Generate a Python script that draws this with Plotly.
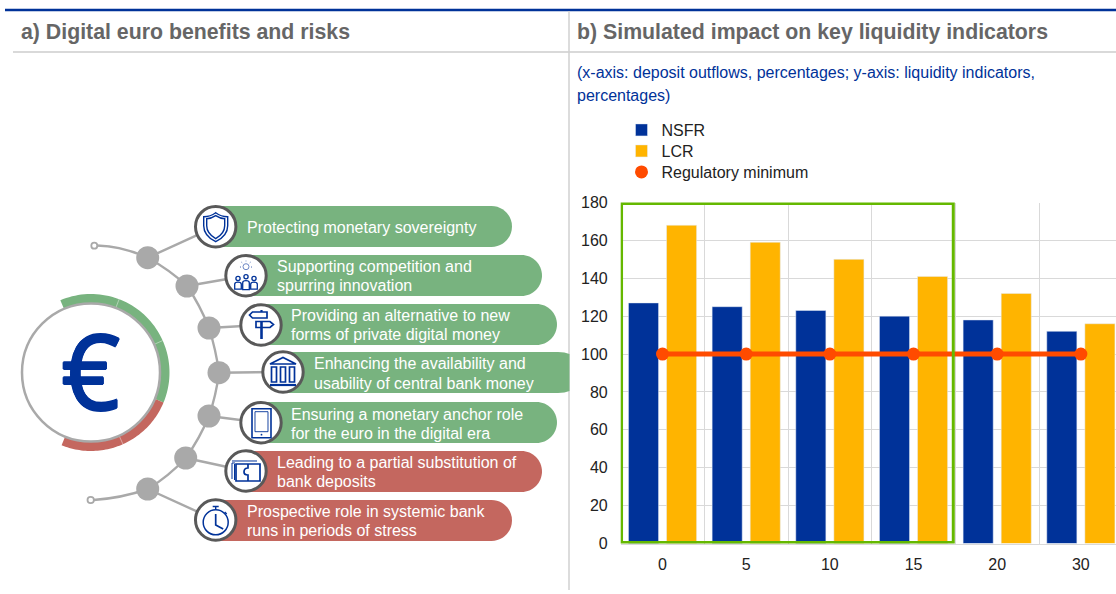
import math, re
import plotly.graph_objects as go

# ---------- data ----------
categories = ["0", "5", "10", "15", "20", "30"]
nsfr = [127, 125, 123, 120, 118, 112]
lcr = [168, 159, 150, 141, 132, 116]
regulatory_minimum = [100, 100, 100, 100, 100, 100]
y_ticks = [0, 20, 40, 60, 80, 100, 120, 140, 160, 180]

pill_labels = [
    ["Protecting monetary sovereignty"],
    ["Supporting competition and", "spurring innovation"],
    ["Providing an alternative to new", "forms of private digital money"],
    ["Enhancing the availability and", "usability of central bank money"],
    ["Ensuring a monetary anchor role", "for the euro in the digital era"],
    ["Leading to a partial substitution of", "bank deposits"],
    ["Prospective role in systemic bank", "runs in periods of stress"],
]
title_a = "a) Digital euro benefits and risks"
title_b = "b) Simulated impact on key liquidity indicators"
subtitle_lines = ["(x-axis: deposit outflows, percentages; y-axis: liquidity indicators,", "percentages)"]

# ---------- colours ----------
BLUE = "#003299"; YELLOW = "#FFB400"; ORANGE = "#FF4B00"; FRAME = "#65B800"
GREEN = "#78B37F"; RED = "#C4675F"; GRID = "#D9D9D9"; NODE = "#A9A9A9"; EDGE = "#595959"
HEAD = "#666666"; FONT = "Liberation Sans, Arial, sans-serif"

W, H = 1116, 594
def fx(x): return x / W
def fy(y): return 1 - y / H

def path(s):
    """Convert a path written in page pixels into paper fractions."""
    i = [0]
    def rep(m):
        v = float(m.group(0)); k = i[0]; i[0] += 1
        return f"{fx(v):.5f}" if k % 2 == 0 else f"{fy(v):.5f}"
    return re.sub(r"-?\d+\.?\d*", rep, s)

shapes = []
def sh_path(s, fill=None, color=None, width=0):
    d = dict(type="path", xref="paper", yref="paper", path=path(s), layer="above")
    d["fillcolor"] = fill if fill else "rgba(0,0,0,0)"
    d["line"] = dict(color=color if color else "rgba(0,0,0,0)", width=width)
    shapes.append(d)
def circle(cx, cy, r, fill=None, color=None, width=0):
    shapes.append(dict(type="circle", xref="paper", yref="paper", layer="above",
                       x0=fx(cx-r), x1=fx(cx+r), y0=fy(cy+r), y1=fy(cy-r),
                       fillcolor=fill if fill else "rgba(0,0,0,0)",
                       line=dict(color=color if color else "rgba(0,0,0,0)", width=width)))
def line(x0, y0, x1, y1, color, width):
    sh_path(f"M {x0} {y0} L {x1} {y1}", color=color, width=width)

# ---------- page rules ----------
line(5, 10, 1116, 10, BLUE, 2.5)
line(13, 52, 1116, 52, GRID, 2)
line(569, 11, 569, 590, "#D0D0D0", 1.5)

# ---------- ring ----------
RCX, RCY = 91, 372.5
def band(a0, a1, r0, r1):
    pts = []
    n = 60
    for k in range(n+1):
        a = math.radians(a0 + (a1-a0)*k/n)
        pts.append((RCX + r1*math.sin(a), RCY - r1*math.cos(a)))
    for k in range(n, -1, -1):
        a = math.radians(a0 + (a1-a0)*k/n)
        pts.append((RCX + r0*math.sin(a), RCY - r0*math.cos(a)))
    return "M " + " L ".join(f"{x:.2f} {y:.2f}" for x, y in pts) + " Z"
sh_path(band(-23, 112.5, 69.5, 78.5), fill=GREEN)
sh_path(band(112.5, 202, 69.5, 78.5), fill=RED)
for a in (21, 66, 156):
    r = math.radians(a)
    line(RCX+70*math.sin(r), RCY-70*math.cos(r), RCX+78.5*math.sin(r), RCY-78.5*math.cos(r), "rgba(255,255,255,0.6)", 0.7)
circle(RCX, RCY, 69, fill="white", color="#A9A9A9", width=2.5)

# ---------- pills ----------
pill_boxes = [(215, 512, 206, 247, GREEN), (246, 542, 255, 296, GREEN), (261, 557, 304, 345, GREEN),
              (283, 0, 352, 393, GREEN), (261, 557, 402, 443, GREEN), (246, 542, 451, 492, RED),
              (215, 512, 500, 541, RED)]
for x0, x1, y0, y1, c in pill_boxes:
    if x1 == 0:
        sh_path(f"M {x0} {y0} L 558 {y0} Q 565 {y0} 569.5 {y0+2} L 569.5 {y1-2} Q 565 {y1} 558 {y1} L {x0} {y1} Z", fill=c)
    else:
        r = (y1-y0)/2; k = 0.55*r; xs = x1-r
        sh_path(f"M {x0} {y0} L {xs} {y0} C {xs+k} {y0} {x1} {y0+r-k} {x1} {y0+r} "
                f"C {x1} {y1-r+k} {xs+k} {y1} {xs} {y1} L {x0} {y1} Z", fill=c)

# ---------- branches ----------
nodes = [(147.7, 257.7), (187, 286), (209, 328), (219, 372.7), (209, 416), (185.7, 458), (147.7, 489)]
icons = [(215.7, 226.7), (246, 275.7), (261, 325), (283, 372), (261, 422.7), (246, 471), (215.7, 520)]
LG = "#A9A9A9"
for n, c in zip(nodes, icons):
    line(n[0], n[1], c[0], c[1], LG, 2.4)
sh_path("M 97 245.5 Q 122 246 147.7 257.7", color=LG, width=2.4)
sh_path("M 147.7 257.7 Q 170 270 187 286", color=LG, width=2.4)
sh_path("M 187 286 Q 200 305 209 328", color=LG, width=2.4)
sh_path("M 209 328 Q 216 350 219 372.7", color=LG, width=2.4)
sh_path("M 219 372.7 Q 216 396 209 416", color=LG, width=2.4)
sh_path("M 209 416 Q 200 438 185.7 458", color=LG, width=2.4)
sh_path("M 185.7 458 Q 168 477 147.7 489", color=LG, width=2.4)
sh_path("M 147.7 489 Q 122 498 93.5 500", color=LG, width=2.4)
circle(94.3, 245.7, 3, fill="white", color=LG, width=1.8)
circle(90.7, 500, 3.2, fill="white", color=LG, width=1.8)
for n in nodes:
    circle(n[0], n[1], 11.5, fill=NODE)
for c in icons:
    circle(c[0], c[1], 20.2, fill="white", color=EDGE, width=3)

# ---------- icons ----------
def ic(c, s, fill=None, width=1.5):
    """Path in coordinates relative to the icon centre."""
    i = [0]
    def rep(m):
        v = float(m.group(0)); k = i[0]; i[0] += 1
        return f"{v + c[k % 2]:.2f}"
    sh_path(re.sub(r"-?\d+\.?\d*", rep, s), fill=fill, color=BLUE, width=width)

# shield
c = icons[0]
ic(c, "M 0 -14 C 4 -11 8 -10 12 -10 L 12 -1 C 12 7 6 12 0 15 C -6 12 -12 7 -12 -1 L -12 -10 C -8 -10 -4 -11 0 -14 Z", width=1.4)
ic(c, "M 0 -11 C 3 -9 6 -8 9 -8 L 9 -1 C 9 5 5 9 0 12 C -5 9 -9 5 -9 -1 L -9 -8 C -6 -8 -3 -9 0 -11 Z", width=1.4)

# people + bulb
c = icons[1]
circle(c[0], c[1]-9, 3, color="#6C86C4", width=1)
for dx, dy in ((-6, -9), (6, -9), (0, -15), (-4.5, -13.5), (4.5, -13.5)):
    ic(c, f"M {dx} {dy} L {dx*0.85} {dy+0.6}", width=0.8)
for dx, hy, t, b in ((-8, 2.8, 6.5, 13.5), (0, 1, 5, 14), (8, 2.8, 6.5, 13.5)):
    circle(c[0]+dx, c[1]+hy, 2.1, color=BLUE, width=1.3)
    ic(c, f"M {dx-3.3} {b} L {dx-3.3} {t+2} Q {dx-3.3} {t} {dx} {t} Q {dx+3.3} {t} {dx+3.3} {t+2} L {dx+3.3} {b} Z", width=1.3)

# signpost
c = icons[2]
ic(c, "M 0.5 -15 L 0.5 -13", width=2.2)
ic(c, "M 0.5 -3 L 0.5 14", width=2.6)
ic(c, "M -11.5 -10 L -8.5 -13 L 6 -13 L 6 -7 L -8.5 -7 Z", width=1.7)
ic(c, "M -5 -3.5 L 9 -3.5 L 12.5 -0.5 L 9 2.5 L -5 2.5 Z", width=1.7)

# bank
c = icons[3]
ic(c, "M -13 -8 L 0 -14.5 L 13 -8 Z", width=1.7)
for dx in (-11.5, -2.5, 6.5):
    ic(c, f"M {dx} -5 L {dx+5} -5 L {dx+5} 10 L {dx} 10 Z", width=1.7)
ic(c, "M -13 13 L 13 13", width=2.2)

# phone
c = icons[4]
ic(c, "M -9 -14 L 10 -14 L 10 15 L -9 15 Z", width=1.6)
ic(c, "M -6 -11 L 7 -11 L 7 9 L -6 9 Z", width=0.9)
circle(c[0]+0.5, c[1]+12, 0.9, fill=BLUE)

# notes with puzzle notch
c = icons[5]
ic(c, "M -11 -8 L -14 -8 L -14 8", width=1.0)
ic(c, "M -14 -10 L 11 -10 M -11.5 9 L -11.5 -7", width=1.0)
ic(c, "M -10 -7 L 14 -7 L 14 10 L -10 10 Z", width=1.7)
ic(c, "M 2 -7 L 2 -3 Q -2 -3 -2 1 Q -2 4 2 4 L 2 10", width=1.7)

# stopwatch
c = icons[6]
circle(c[0], c[1]+2.3, 12.5, color=BLUE, width=1.5)
ic(c, "M -3 -13.5 L 3 -13.5 M 0 -13.5 L 0 -10", width=1.4)
ic(c, "M 9 -8 L 11 -6", width=1.4)
ic(c, "M 0 -6 L 0 5 L 7.5 9", width=1.7)

# ---------- frame over the bars ----------
shapes.append(dict(type="rect", xref="x", yref="y", x0=-0.49, x1=3.475, y0=0.5, y1=179.5,
                   line=dict(color=FRAME, width=3), layer="above"))

# ---------- annotations ----------
ann = []
def text(x, y, t, size, color, bold=False, xanchor="left"):
    ann.append(dict(xref="paper", yref="paper", x=fx(x), y=fy(y), text=f"<b>{t}</b>" if bold else t,
                    showarrow=False, xanchor=xanchor, yanchor="middle", align="left", borderpad=0,
                    font=dict(family=FONT, size=size, color=color)))
text(20, 32, title_a, 21.3, HEAD, bold=True)
text(576.5, 32, title_b, 21.3, HEAD, bold=True)
text(575.5, 73, subtitle_lines[0], 16, BLUE)
text(575.5, 95, subtitle_lines[1], 16, BLUE)
text_pos = [(245.5, [227]), (275.5, [266.7, 285.7]), (290.5, [315.7, 334.7]), (313, [363.7, 383]),
            (290.5, [414, 433]), (275.5, [462.7, 481.7]), (245.5, [511.7, 530.7])]
for (x, ys), lines in zip(text_pos, pill_labels):
    for y, t in zip(ys, lines):
        text(x, y, t, 16, "white")
EURO_SHADOW = "0.8px 0 0 #003299, -0.8px 0 0 #003299, 0 0.8px 0 #003299, 0 -0.8px 0 #003299"
ann.append(dict(xref="paper", yref="paper", x=fx(90.5), y=fy(369.5), text="€", showarrow=False,
                xanchor="center", yanchor="middle",
                font=dict(family="Noto Sans", size=104, color=BLUE, shadow=EURO_SHADOW)))

# ---------- figure ----------
fig = go.Figure()
fig.add_trace(go.Bar(name="NSFR", x=categories, y=nsfr, marker=dict(color=BLUE), legend="legend"))
fig.add_trace(go.Bar(name="LCR", x=categories, y=lcr, marker=dict(color=YELLOW), legend="legend2"))
fig.add_trace(go.Scatter(x=categories, y=regulatory_minimum, mode="lines", showlegend=False,
                         line=dict(color=ORANGE, width=5)))
fig.add_trace(go.Scatter(name="Regulatory minimum", x=categories, y=regulatory_minimum, mode="markers",
                         marker=dict(color=ORANGE, size=13), legend="legend3"))

def legend_at(yc):
    return dict(x=fx(621.5), y=fy(yc), xanchor="left", yanchor="middle", bgcolor="rgba(0,0,0,0)",
                font=dict(family=FONT, size=16, color="#222222"))

fig.update_layout(
    width=W, height=H, margin=dict(l=0, r=0, t=0, b=0, pad=0, autoexpand=False),
    paper_bgcolor="white", plot_bgcolor="white",
    font=dict(family=FONT, size=16, color="#222222"),
    barmode="group", bargap=0.09, bargroupgap=0.21,
    showlegend=True,
    legend=legend_at(130), legend2=legend_at(151), legend3=legend_at(172),
    xaxis=dict(type="category", domain=[fx(620.7), 1], range=[-0.5, 5.42], tickson="boundaries",
               showgrid=True, gridcolor=GRID, gridwidth=1.2, ticks="", ticklabelstandoff=6,
               showline=True, linecolor=GRID, zeroline=False, fixedrange=True,
               tickfont=dict(family=FONT, size=16, color="#222222")),
    yaxis=dict(domain=[fy(543.5), fy(202.5)], range=[0, 180], tickvals=y_ticks, showgrid=True,
               gridcolor=GRID, gridwidth=1.2, ticks="", ticklabelstandoff=12, zeroline=False, fixedrange=True,
               tickfont=dict(family=FONT, size=16, color="#222222")),
    shapes=shapes, annotations=ann,
)
fig.write_html("out.html", config=dict(displayModeBar=False),
               post_script="document.body.style.margin='0';document.documentElement.style.overflow='hidden';")
